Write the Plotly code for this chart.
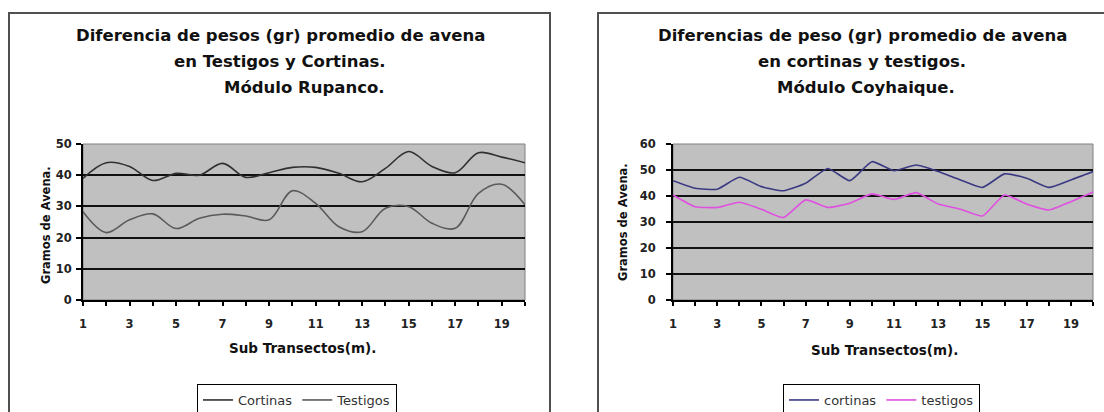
import plotly.graph_objects as go

# Figure size in pixels
W, H = 1104, 412

# Sub-transect positions (m) and tick labels (odd ones labelled)
x_sub = list(range(1, 21))
x_ticktext = [str(i) if i % 2 == 1 else "" for i in x_sub]

# Módulo Rupanco: mean oat weight (g)
rupanco_cortinas = [39.0, 44.0, 42.8, 38.3, 40.6, 40.0, 43.8, 39.3, 40.8, 42.5,
                    42.5, 40.6, 37.9, 42.2, 47.6, 42.8, 40.8, 47.2, 45.8, 44.0]
rupanco_testigos = [28.3, 21.6, 25.7, 27.6, 22.9, 26.2, 27.5, 26.9, 25.7, 35.0,
                    31.0, 23.5, 21.9, 29.4, 29.9, 24.6, 23.0, 34.2, 37.1, 30.5]

# Módulo Coyhaique: mean oat weight (g)
coyhaique_cortinas = [45.9, 43.0, 42.6, 47.2, 43.6, 42.0, 44.9, 50.6, 45.9, 53.2,
                      49.7, 51.9, 49.4, 46.2, 43.3, 48.5, 46.8, 43.3, 46.2, 49.4]
coyhaique_testigos = [40.4, 35.9, 35.6, 37.6, 34.9, 31.7, 38.5, 35.6, 37.2, 40.8,
                      38.7, 41.3, 36.9, 34.9, 32.3, 40.4, 36.9, 34.6, 37.8, 41.5]

left_yticks = [0, 10, 20, 30, 40, 50]
right_yticks = [0, 10, 20, 30, 40, 50, 60]


def fx(p):
    return p / W


def fy(p):
    return 1 - p / H


BOLD = dict(family="DejaVu Sans", weight="bold", color="#111")

fig = go.Figure()

fig.add_trace(go.Scatter(x=x_sub, y=rupanco_cortinas, name="Cortinas", mode="lines",
                         line=dict(color="#303030", width=1.6, shape="spline", smoothing=1.0),
                         xaxis="x", yaxis="y", legend="legend"))
fig.add_trace(go.Scatter(x=x_sub, y=rupanco_testigos, name="Testigos", mode="lines",
                         line=dict(color="#5a5a5a", width=1.6, shape="spline", smoothing=1.0),
                         xaxis="x", yaxis="y", legend="legend"))
fig.add_trace(go.Scatter(x=x_sub, y=coyhaique_cortinas, name="cortinas", mode="lines",
                         line=dict(color="#3a3a82", width=1.6, shape="spline", smoothing=0.5),
                         xaxis="x2", yaxis="y2", legend="legend2"))
fig.add_trace(go.Scatter(x=x_sub, y=coyhaique_testigos, name="testigos", mode="lines",
                         line=dict(color="#e050e0", width=1.6, shape="spline", smoothing=0.5),
                         xaxis="x2", yaxis="y2", legend="legend2"))

y_dom = [fy(300), fy(144)]
tickfont = dict(family="DejaVu Sans", size=11.5, weight="bold", color="#222")


def xaxis_main(dom):
    return dict(domain=dom, range=[1, 20], tickvals=x_sub, ticktext=x_ticktext,
                ticks="outside", ticklen=4, tickwidth=2, tickcolor="black",
                showline=True, linecolor="black", linewidth=2, showgrid=False,
                zeroline=False, tickfont=tickfont, ticklabelstandoff=8)


def xaxis_inner(over, anchor):
    return dict(overlaying=over, anchor=anchor, range=[1, 20], tickvals=x_sub,
                ticks="inside", ticklen=4, tickwidth=2, tickcolor="black",
                showticklabels=False, showgrid=False, zeroline=False, showline=False)


def yaxis_main(top, tickvals, anchor, standoff):
    return dict(domain=y_dom, range=[0, top], tickvals=tickvals, anchor=anchor,
                ticks="outside", ticklen=5, tickwidth=2, tickcolor="black",
                showline=True, linecolor="black", linewidth=2,
                showgrid=True, gridcolor="#111", gridwidth=2, zeroline=False,
                tickfont=tickfont, ticklabelstandoff=standoff)


legend_style = dict(xanchor="left", yanchor="top", orientation="h",
                    bordercolor="black", borderwidth=1, bgcolor="white",
                    font=dict(family="DejaVu Sans", size=13, color="#333"),
                    itemwidth=30)

fig.update_layout(
    width=W, height=H,
    margin=dict(l=0, r=0, t=0, b=0, autoexpand=False),
    paper_bgcolor="white",
    plot_bgcolor="#c0c0c0",
    xaxis=xaxis_main([fx(83), fx(525)]) | dict(anchor="y"),
    yaxis=yaxis_main(50, left_yticks, "x", 2),
    xaxis2=xaxis_main([fx(673), fx(1093)]) | dict(anchor="y2"),
    yaxis2=yaxis_main(60, right_yticks, "x2", 8),
    xaxis3=xaxis_inner("x", "y"),
    xaxis4=xaxis_inner("x2", "y2"),
    legend=legend_style | dict(x=fx(197), y=fy(384)),
    legend2=legend_style | dict(x=fx(783), y=fy(384)),
    showlegend=True,
)

# Chart frames and plot-area borders
shapes = [
    dict(type="rect", xref="paper", yref="paper", x0=fx(9), x1=fx(550), y0=-0.3, y1=fy(13),
         line=dict(color="#505050", width=2), layer="below"),
    dict(type="rect", xref="paper", yref="paper", x0=fx(598), x1=1.1, y0=-0.3, y1=fy(13),
         line=dict(color="#505050", width=2), layer="below"),
    dict(type="rect", xref="x domain", yref="y domain", x0=0, x1=1, y0=0, y1=1,
         line=dict(color="#808080", width=1), layer="below"),
    dict(type="rect", xref="x2 domain", yref="y2 domain", x0=0, x1=1, y0=0, y1=1,
         line=dict(color="#808080", width=1), layer="below"),
]
fig.update_layout(shapes=shapes)


def label(text, x, y, size, angle=0):
    return dict(text=text, x=fx(x), y=fy(y), xref="paper", yref="paper",
                showarrow=False, xanchor="center", yanchor="middle", textangle=angle,
                font=BOLD | dict(size=size))


annotations = [
    label("Diferencia de pesos (gr) promedio de avena", 280, 36, 16.5),
    label("en Testigos y Cortinas.", 280, 61, 16.5),
    label("Módulo Rupanco.", 304, 87, 16.5),
    label("Sub Transectos(m).", 302, 348, 13.5),
    label("Gramos de Avena.", 46, 225, 11.5, -90),
    label("Diferencias de peso (gr) promedio de avena", 862, 36, 16.5),
    label("en cortinas y testigos.", 862, 61, 16.5),
    label("Módulo Coyhaique.", 866, 87, 16.5),
    label("Sub Transectos(m).", 884, 350, 13.5),
    label("Gramos de Avena.", 623, 222, 11.5, -90),
]
fig.update_layout(annotations=annotations)

fig.write_html("out.html")
